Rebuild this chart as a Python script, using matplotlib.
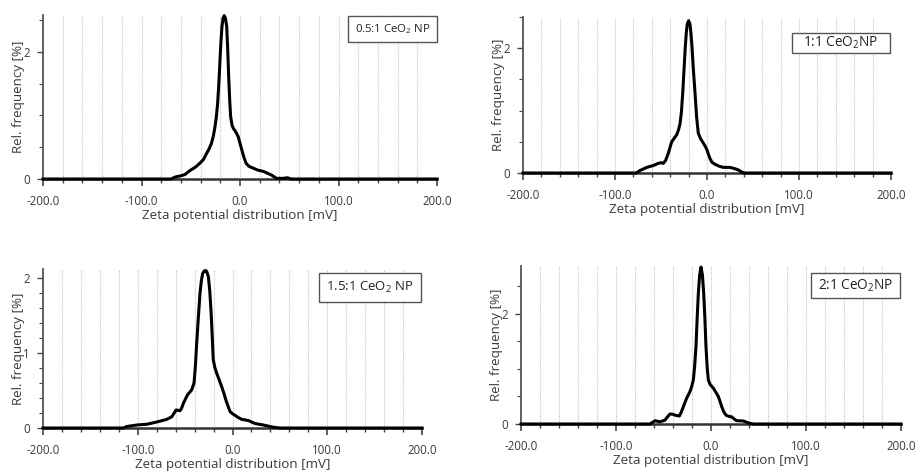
import matplotlib
matplotlib.use("Agg")
import matplotlib.pyplot as plt
from matplotlib.patches import Rectangle
from matplotlib.ticker import MultipleLocator

plt.rcParams['font.family'] = ['Open Sans', 'DejaVu Sans']
plt.rcParams['mathtext.fontset'] = 'custom'
plt.rcParams['mathtext.rm'] = 'Open Sans'

# zeta potential (mV) and relative frequency (%)
zeta_05 = [-200, -70, -66, -60, -56, -51, -45, -40.6, -37, -34, -31.5, -29, -27, -25.4, -24,
           -22.7, -21.5, -20.3, -19.3, -18.3, -17.2, -16, -14.8, -13.5, -12.5, -11.5, -10.5,
           -9.5, -8, -6.5, -5.1, -3.5, -1.7, 0, 1.8, 4, 6.1, 9, 13.5, 18, 23.7, 28, 32.2,
           37, 44, 48, 52, 200]
freq_05 = [0, 0, 0.03, 0.05, 0.07, 0.13, 0.19, 0.25, 0.31, 0.40, 0.47, 0.56, 0.68, 0.82, 0.98,
           1.19, 1.50, 1.87, 2.17, 2.40, 2.53, 2.57, 2.53, 2.40, 2.05, 1.61, 1.25,
           0.98, 0.84, 0.79, 0.76, 0.72, 0.66, 0.56, 0.46, 0.34, 0.25, 0.20, 0.17, 0.14, 0.12,
           0.09, 0.06, 0.01, 0.01, 0.02, 0, 0]

zeta_11 = [-200, -77, -72.8, -65.5, -58.3, -52.9, -50, -47.5, -45, -42, -38.4, -35.5, -33, -31,
           -29.3, -27.8, -26.4, -25, -23.6, -22.5, -21.4, -20, -18.6, -17.5, -16.3, -14.8, -13,
           -11.3, -9.5, -7, -4, -2, 0, 1.5, 3.3, 5.5, 8.7, 13, 17.7, 25, 30, 34, 39.5, 200]
freq_11 = [0, 0, 0.04, 0.09, 0.12, 0.155, 0.165, 0.155, 0.20, 0.32, 0.50, 0.56, 0.61, 0.69,
           0.79, 0.98, 1.28, 1.65, 2.02, 2.25, 2.39, 2.44, 2.39, 2.25, 2.02, 1.65, 1.28,
           0.90, 0.64, 0.55, 0.48, 0.43, 0.37, 0.30, 0.23, 0.17, 0.14, 0.11, 0.09, 0.09, 0.07,
           0.05, 0, 0]

zeta_151 = [-200, -115, -111.6, -101, -90.4, -79.9, -69.3, -64.1, -61.5, -59.5, -55.3, -53.5,
            -51.8, -47.6, -43, -40.6, -39.2, -37.8, -36, -34.3, -32.8, -31.5, -30, -28.7, -27.3,
            -25.5, -24, -22.7, -21.5, -20.3, -18.5, -16.7, -14, -11.4, -9, -6.9, -4.7, -2.6,
            0, 2.6, 6, 9.7, 16.7, 23.7, 32.6, 43.1, 50, 200]
freq_151 = [0, 0, 0.02, 0.04, 0.05, 0.08, 0.115, 0.15, 0.20, 0.24, 0.23, 0.27,
            0.33, 0.44, 0.51, 0.60, 0.82, 1.13, 1.48, 1.80, 1.97, 2.06, 2.09, 2.10, 2.09,
            2.02, 1.83, 1.57, 1.25, 0.91, 0.80, 0.73, 0.64, 0.55, 0.46, 0.37, 0.29, 0.22,
            0.19, 0.17, 0.14, 0.115, 0.10, 0.06, 0.04, 0.01, 0, 0]

zeta_21 = [-200, -64.2, -61.5, -58.9, -56.3, -53.7, -48.4, -45.8, -43.2, -40.5, -37.9, -33.3,
           -31.2, -29.1, -25.6, -22.1, -20.3, -18.6, -17.2, -15.8, -14.5, -13.3, -12, -10.5,
           -9, -7.7, -6.5, -5.3, -4, -2.8, -1, 2.5, 5, 7.7, 9.5, 11.3, 13.5, 15.8, 18.5, 21.8,
           24.5, 27, 34, 41, 45, 200]
freq_21 = [0, 0, 0.03, 0.06, 0.05, 0.04, 0.07, 0.13, 0.18, 0.18, 0.16, 0.145,
           0.22, 0.315, 0.47, 0.59, 0.68, 0.80, 1.05, 1.41, 1.95, 2.38, 2.70, 2.85,
           2.70, 2.38, 1.95, 1.41, 1.02, 0.80, 0.72, 0.65, 0.58, 0.50, 0.41, 0.315, 0.22, 0.16,
           0.14, 0.13, 0.09, 0.06, 0.055, 0.01, 0, 0]

sample_labels = ["0.5:1 CeO$_2$ NP", "1:1 CeO$_2$NP", "1.5:1 CeO$_2$ NP", "2:1 CeO$_2$NP"]
x_ticks = [-200, -100, 0, 100, 200]
x_ticklabels = ["-200.0", "-100.0", "0.0", "100.0", "200.0"]

W, H = 915, 471
fig = plt.figure(figsize=(W / 100, H / 100), dpi=100)
fig.patch.set_facecolor('white')

# panel boxes in pixels: left, top, right, bottom(zero line); y max; minor step; major step
panels = [
    (zeta_05, freq_05, (43, 15, 437, 179), 2.58, 0.5, 2, sample_labels[0], (348, 16, 437, 42), 8.2),
    (zeta_11, freq_11, (523, 17, 891, 173), 2.5, 0.5, 2, sample_labels[1], (792, 33, 890, 53), 9.8),
    (zeta_151, freq_151, (43, 269, 422, 428), 2.12, 0.2, 1, sample_labels[2], (319, 273, 421, 302), 9.5),
    (zeta_21, freq_21, (521, 266, 901, 424), 2.87, 0.5, 2, sample_labels[3], (811, 273, 900, 298), 9.8),
]

txt_col = '#3a3a3a'
for zx, fy, (l, t, r, b), ymax, minor, major, lab, (bl, bt, br, bb), fs in panels:
    ax = fig.add_axes([l / W, 1 - b / H, (r - l) / W, (b - t) / H])
    ax.plot(zx, fy, color='black', lw=2.2, solid_joinstyle='round', clip_on=False, zorder=3)
    ax.set_xlim(-200, 200)
    ax.set_ylim(0, ymax)

    for gx in range(-180, 200, 20):
        ax.axvline(gx, color='#c0c0c0', lw=0.8, ls=(0, (1, 1.2)), zorder=0)

    ax.set_xticks(x_ticks)
    ax.set_xticklabels(x_ticklabels)
    ax.xaxis.set_minor_locator(MultipleLocator(20))
    ax.yaxis.set_major_locator(MultipleLocator(major))
    ax.yaxis.set_minor_locator(MultipleLocator(minor))
    ax.tick_params(axis='both', which='both', direction='out', colors='#444444',
                   labelcolor=txt_col, labelsize=8.3)
    ax.tick_params(axis='x', which='major', length=5, width=1.2, pad=6.5)
    ax.tick_params(axis='x', which='minor', length=3, width=1)
    ax.tick_params(axis='y', which='major', length=4, width=1, pad=5.5)
    ax.tick_params(axis='y', which='minor', length=3, width=0.8)

    for s in ['top', 'right']:
        ax.spines[s].set_visible(False)
    ax.spines['bottom'].set_color('#333333')
    ax.spines['bottom'].set_linewidth(1.8)
    ax.spines['left'].set_color('#555555')
    ax.spines['left'].set_linewidth(1.3)

    ax.set_xlabel("Zeta potential distribution [mV]", fontsize=9.6, color=txt_col, labelpad=1)
    ax.set_ylabel("Rel. frequency [%]", fontsize=9.6, color=txt_col, labelpad=-1)

    fig.add_artist(Rectangle((bl / W, 1 - bb / H), (br - bl) / W, (bb - bt) / H,
                             transform=fig.transFigure, fill=True, facecolor='white',
                             edgecolor='#555555', lw=1.0, zorder=5))
    fig.text((bl + br) / 2 / W, 1 - (bt + bb) / 2 / H, lab, ha='center', va='center',
             fontsize=fs, color='#222222', zorder=6)

fig.savefig("out.png", dpi=100, facecolor='white')
